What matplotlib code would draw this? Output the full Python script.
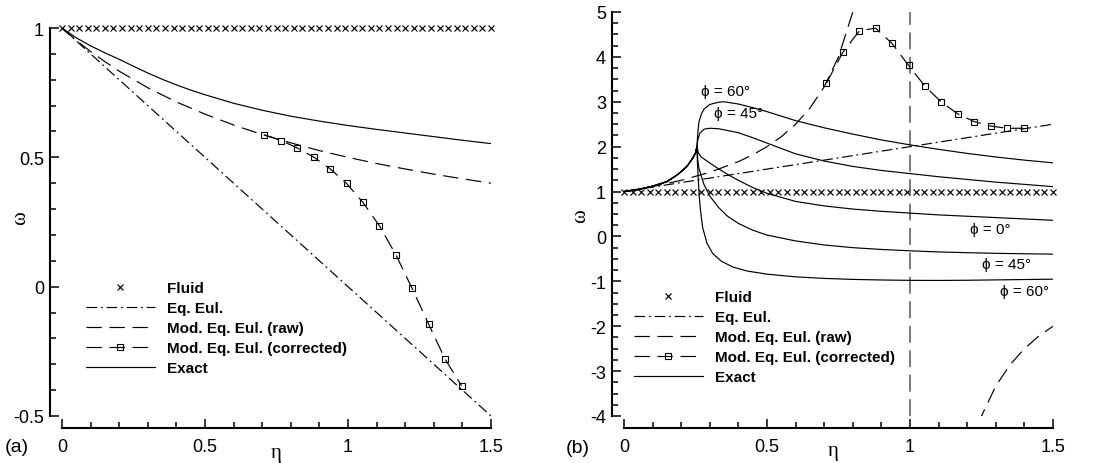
import numpy as np
import matplotlib
matplotlib.use("Agg")
import matplotlib.pyplot as plt

plt.rcParams['font.family'] = ['Liberation Sans', 'DejaVu Sans']

# ---------------- panel (a) ----------------
a_fluid_eta = np.linspace(0.0, 1.5, 51)
a_fluid_omega = np.full(51, 1.0)

a_eqeul_eta = [0.0, 1.5]
a_eqeul_omega = [1.0, -0.5]

a_raw_eta = [0.0, 0.05, 0.1, 0.15, 0.2, 0.3, 0.4, 0.5, 0.6, 0.7, 0.8, 0.9, 1.0,
             1.1, 1.2, 1.3, 1.4, 1.5]
a_raw_omega = [1.0, 0.952, 0.909, 0.870, 0.833, 0.769, 0.714, 0.667, 0.625, 0.588,
               0.556, 0.526, 0.500, 0.476, 0.455, 0.435, 0.417, 0.400]

a_corr_eta = [0.708, 0.766, 0.823, 0.880, 0.937, 0.995, 1.052, 1.110, 1.167,
              1.224, 1.282, 1.339, 1.397]
a_corr_omega = [0.587, 0.565, 0.536, 0.501, 0.456, 0.399, 0.326, 0.235, 0.124,
                -0.006, -0.145, -0.279, -0.383]

a_exact_eta = [0.0, 0.05, 0.1, 0.15, 0.2, 0.25, 0.3, 0.35, 0.4, 0.45, 0.5, 0.6, 0.7,
               0.8, 0.9, 1.0, 1.1, 1.2, 1.3, 1.4, 1.5]
a_exact_omega = [1.0, 0.962, 0.931, 0.904, 0.879, 0.852, 0.826, 0.802, 0.780, 0.760,
                 0.742, 0.709, 0.682, 0.659, 0.640, 0.623, 0.608, 0.594, 0.580,
                 0.566, 0.553]

# ---------------- panel (b) ----------------
b_fluid_eta = np.linspace(0.0, 1.5, 51)
b_fluid_omega = np.full(51, 1.0)

b_eqeul_eta = [0.0, 1.5]
b_eqeul_omega = [1.0, 2.5]

b_raw_eta = [0.0, 0.1, 0.2, 0.3, 0.4, 0.45, 0.5, 0.55, 0.6, 0.65, 0.7, 0.75, 0.8, 0.82]
b_raw_omega = [1.0, 1.111, 1.25, 1.429, 1.667, 1.818, 2.0, 2.222, 2.5, 2.857, 3.333,
               4.0, 5.0, 5.556]
b_raw2_eta = [1.24, 1.25, 1.3, 1.35, 1.4, 1.45, 1.5]
b_raw2_omega = [-4.167, -4.0, -3.333, -2.857, -2.5, -2.222, -2.0]
b_pole_eta = 1.0

b_corr_eta = [0.708, 0.766, 0.823, 0.880, 0.937, 0.995, 1.052, 1.110, 1.167,
              1.224, 1.282, 1.339, 1.397]
b_corr_omega = [3.42, 4.11, 4.58, 4.64, 4.30, 3.81, 3.35, 2.99, 2.73, 2.56, 2.46,
                2.41, 2.41]

# common rising branch of the exact solutions, up to the cusp
b_rise_eta = [0.0, 0.05, 0.1, 0.15, 0.19, 0.22, 0.24, 0.25, 0.255]
b_rise_omega = [1.0, 1.045, 1.12, 1.22, 1.39, 1.56, 1.74, 1.86, 2.0]

b_phi60_eta = [0.258, 0.262, 0.27, 0.28, 0.30, 0.33, 0.35, 0.4, 0.45, 0.5, 0.6, 0.7,
               0.8, 0.9, 1.0, 1.1, 1.2, 1.3, 1.4, 1.5]
b_phi60_omega = [2.3, 2.55, 2.72, 2.84, 2.94, 2.99, 3.0, 2.95, 2.87, 2.78, 2.58, 2.42,
                 2.28, 2.15, 2.04, 1.94, 1.85, 1.77, 1.70, 1.64]

b_phi45_eta = [0.258, 0.265, 0.28, 0.30, 0.33, 0.37, 0.4, 0.45, 0.5, 0.6, 0.7, 0.8,
               0.9, 1.0, 1.1, 1.2, 1.3, 1.4, 1.5]
b_phi45_omega = [2.15, 2.3, 2.39, 2.41, 2.40, 2.35, 2.31, 2.20, 2.08, 1.84, 1.68, 1.56,
                 1.47, 1.40, 1.33, 1.27, 1.21, 1.16, 1.11]

b_phi0_eta = [0.26, 0.27, 0.29, 0.32, 0.36, 0.4, 0.45, 0.5, 0.6, 0.7, 0.8, 0.9, 1.0,
              1.1, 1.2, 1.3, 1.4, 1.5]
b_phi0_omega = [1.86, 1.77, 1.68, 1.55, 1.39, 1.25, 1.09, 0.96, 0.78, 0.68, 0.61, 0.56,
                0.52, 0.48, 0.45, 0.42, 0.39, 0.36]

b_phim45_eta = [0.258, 0.262, 0.27, 0.28, 0.30, 0.33, 0.36, 0.4, 0.45, 0.5, 0.6, 0.7,
                0.8, 0.9, 1.0, 1.1, 1.2, 1.3, 1.4, 1.5]
b_phim45_omega = [1.7, 1.52, 1.35, 1.15, 0.9, 0.65, 0.46, 0.29, 0.14, 0.03, -0.10,
                  -0.19, -0.25, -0.29, -0.32, -0.345, -0.362, -0.376, -0.386, -0.394]

b_phim60_eta = [0.257, 0.26, 0.263, 0.268, 0.275, 0.29, 0.31, 0.34, 0.38, 0.43, 0.5,
                0.6, 0.7, 0.8, 0.9, 1.0, 1.1, 1.2, 1.3, 1.4, 1.5]
b_phim60_omega = [1.6, 1.25, 0.9, 0.55, 0.2, -0.15, -0.38, -0.55, -0.68, -0.77, -0.84,
                  -0.9, -0.935, -0.957, -0.97, -0.978, -0.98, -0.976, -0.968, -0.96,
                  -0.952]

phi_labels = ["\u03d5 = 60\u00b0", "\u03d5 = 45\u00b0", "\u03d5 = 0\u00b0",
              "\u03d5 = 45\u00b0", "\u03d5 = 60\u00b0"]
phi_label_eta = [0.355, 0.40, 1.28, 1.337, 1.40]
phi_label_omega = [3.25, 2.74, 0.17, -0.61, -1.21]

legend_labels = ["Fluid", "Eq. Eul.", "Mod. Eq. Eul. (raw)",
                 "Mod. Eq. Eul. (corrected)", "Exact"]

# ---------------- styling ----------------
LW = 0.85
DASHDOT = (0, (9, 3.2, 1.6, 3.2))
DASHED = (0, (13, 6.5))
TICK_FS = 13
GREEK = ['Liberation Serif', 'DejaVu Serif']
W, H = 1100.0, 464.0


def px(v):
    return v * 72.0 / 100.0


def style_axes(ax, xlim, ylim, yticks, yminor):
    ax.set_xlim(*xlim)
    ax.set_ylim(*ylim)
    for s in ('top', 'right'):
        ax.spines[s].set_visible(False)
    ax.spines['left'].set_position(('outward', px(12)))
    ax.spines['bottom'].set_position(('outward', px(12)))
    ax.spines['left'].set_linewidth(1.5)
    ax.spines['bottom'].set_linewidth(1.5)
    ax.set_xticks([0, 0.5, 1.0, 1.5])
    ax.set_xticklabels(['0', '0.5', '1', '1.5'])
    ax.set_xticks(np.arange(0, 1.51, 0.1), minor=True)
    ax.set_yticks(yticks)
    ax.set_yticklabels([('%g' % t) for t in yticks])
    ax.set_yticks(yminor, minor=True)
    ax.tick_params(which='both', direction='in', width=1.1, labelsize=TICK_FS,
                   colors='black')
    ax.tick_params(which='major', length=px(9))
    ax.tick_params(which='minor', length=px(6))
    ax.tick_params(axis='y', pad=px(6))
    ax.tick_params(axis='x', pad=px(10))


def add_legend(ax, handles, x_px, y_px, fig):
    return ax.legend(handles, legend_labels, loc='upper left',
                     bbox_to_anchor=(x_px / W, 1 - y_px / H),
                     bbox_transform=fig.transFigure, frameon=False,
                     prop={'weight': 'bold', 'size': 11}, handlelength=4.5,
                     handletextpad=0.8, labelspacing=0.4, borderpad=0.0,
                     borderaxespad=0.0, numpoints=1)


fig = plt.figure(figsize=(W / 100, H / 100), dpi=100)

# ---- (a) ----
axa = fig.add_axes([62 / W, (H - 417) / H, 429 / W, 388 / H])
style_axes(axa, (0, 1.5), (-0.5, 1.0), [-0.5, 0, 0.5, 1],
           np.arange(-0.5, 1.001, 0.1))
h_fluid = axa.plot(a_fluid_eta, a_fluid_omega, ls='none', marker='x', ms=3.8,
                   mew=0.85, color='black', clip_on=False)[0]
h_eq = axa.plot(a_eqeul_eta, a_eqeul_omega, ls=DASHDOT, lw=LW, color='black')[0]
h_raw = axa.plot(a_raw_eta, a_raw_omega, ls=DASHED, lw=LW, color='black')[0]
h_corr = axa.plot(a_corr_eta, a_corr_omega, ls=DASHED, lw=LW, color='black',
                  marker='s', ms=4.0, mfc='none', mec='black', mew=0.8)[0]
h_ex = axa.plot(a_exact_eta, a_exact_omega, ls='-', lw=LW, color='black')[0]
add_legend(axa, [h_fluid, h_eq, h_raw, h_corr, h_ex], 86, 282, fig)

# ---- (b) ----
axb = fig.add_axes([624 / W, (H - 417) / H, 429 / W, 404 / H])
style_axes(axb, (0, 1.5), (-4, 5), [-4, -3, -2, -1, 0, 1, 2, 3, 4, 5],
           np.arange(-4, 5.001, 0.25))
g_fluid = axb.plot(b_fluid_eta, b_fluid_omega, ls='none', marker='x', ms=3.8,
                   mew=0.85, color='black', clip_on=False)[0]
g_eq = axb.plot(b_eqeul_eta, b_eqeul_omega, ls=DASHDOT, lw=LW, color='black')[0]
g_raw = axb.plot(b_raw_eta, b_raw_omega, ls=DASHED, lw=LW, color='black')[0]
axb.plot(b_raw2_eta, b_raw2_omega, ls=DASHED, lw=LW, color='black')
axb.axvline(b_pole_eta, ls=(0, (11, 5)), lw=1.1, color='#555555')
g_corr = axb.plot(b_corr_eta, b_corr_omega, ls=DASHED, lw=LW, color='black',
                  marker='s', ms=4.0, mfc='none', mec='black', mew=0.8)[0]

branches = [(b_phi60_eta, b_phi60_omega), (b_phi45_eta, b_phi45_omega),
            (b_phi0_eta, b_phi0_omega), (b_phim45_eta, b_phim45_omega),
            (b_phim60_eta, b_phim60_omega)]
g_ex = None
for be, bo in branches:
    g_ex = axb.plot(list(b_rise_eta) + list(be), list(b_rise_omega) + list(bo),
                    ls='-', lw=LW, color='black')[0]
for lab, le, lo in zip(phi_labels, phi_label_eta, phi_label_omega):
    axb.text(le, lo, lab, ha='center', va='center', fontsize=11)
add_legend(axb, [g_fluid, g_eq, g_raw, g_corr, g_ex], 634, 291, fig)

# axis titles and panel tags
for xc, yc in [(21, 218), (581, 216)]:
    fig.text(xc / W, 1 - yc / H, '\u03c9', family=GREEK, fontsize=15,
             rotation=90, ha='center', va='center')
for xc, yc in [(276, 454), (833, 452)]:
    fig.text(xc / W, 1 - yc / H, '\u03b7', family=GREEK, fontsize=15,
             ha='center', va='center')
fig.text(5 / W, 1 - 448 / H, '(a)', fontsize=14, va='center', ha='left')
fig.text(566 / W, 1 - 449 / H, '(b)', fontsize=14, va='center', ha='left')

fig.savefig('out.png', dpi=100)
